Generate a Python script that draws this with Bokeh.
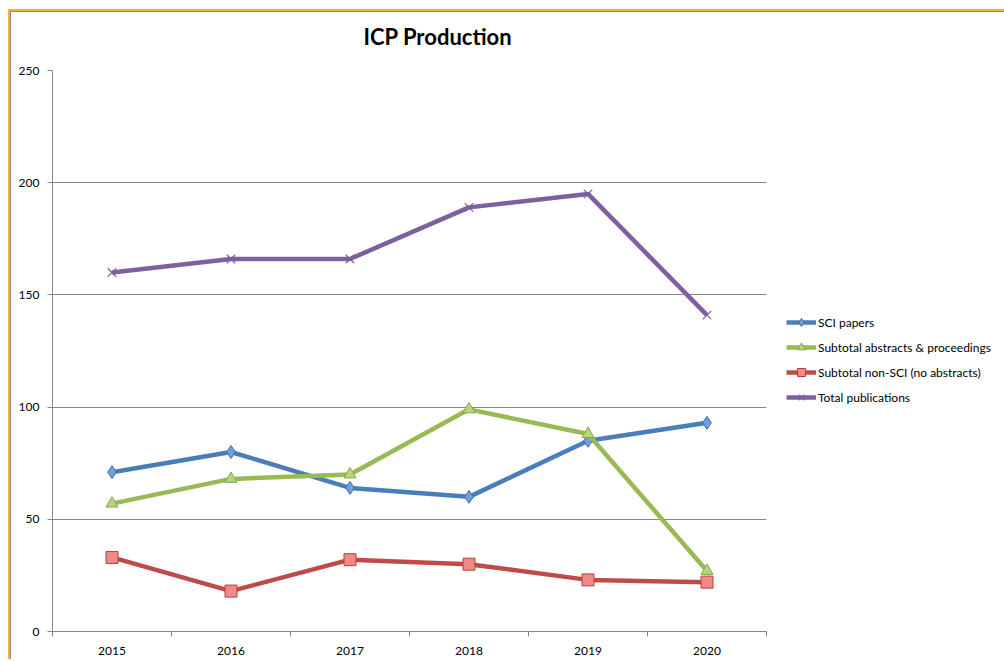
from bokeh.plotting import figure
from bokeh.models import FixedTicker, Legend, LegendItem
from bokeh.embed import file_html
from bokeh.resources import INLINE

years = [2015, 2016, 2017, 2018, 2019, 2020]
sci_papers = [71, 80, 64, 60, 85, 93]
abstracts_proceedings = [57, 68, 70, 99, 88, 27]
non_sci = [33, 18, 32, 30, 23, 22]
total_publications = [160, 166, 166, 189, 195, 141]

series_names = ["SCI papers", "Subtotal abstracts & proceedings",
                "Subtotal non-SCI (no abstracts)", "Total publications"]
y_ticks = [0, 50, 100, 150, 200, 250]

FONT = "Lato"
GRID = "#868686"
ORANGE = "#F5B32B"

p = figure(frame_width=714, frame_height=561, output_backend="svg", toolbar_location=None,
           x_range=(years[0] - 0.5, years[-1] + 0.5), y_range=(0, 250),
           min_border_left=52, min_border_right=8, min_border_top=70,
           min_border_bottom=28)
# chart-area frame (orange selection line with thin grey inner edge)
p.styles = {"box-shadow": (
    "inset 0 9px 0 0 white, inset 8px 0 0 0 white, "
    f"inset 0 11px 0 0 {ORANGE}, inset 10px 0 0 0 {ORANGE}, "
    "inset 0 12px 0 0 #8a8a8a, inset 11px 0 0 0 #8a8a8a")}
p.border_fill_color = None
p.background_fill_color = "white"
p.outline_line_color = None

p.title.text = "ICP Production"
p.title.text_font = FONT
p.title.text_font_size = "22px"
p.title.text_font_style = "bold"
p.title.text_color = "black"
p.title.align = "left"
p.title.offset = 311
p.title.standoff = 41

# axes
p.xaxis.ticker = FixedTicker(ticks=years, minor_ticks=[y - 0.5 for y in years] + [years[-1] + 0.5])
p.xaxis.major_tick_line_color = None
p.xaxis.minor_tick_out = 5
p.xaxis.minor_tick_in = 0
p.xaxis.minor_tick_line_color = GRID
p.xaxis.axis_line_color = GRID
p.xaxis.major_label_text_font = FONT
p.xaxis.major_label_text_font_size = "12px"
p.xaxis.major_label_text_color = "black"
p.xaxis.major_label_standoff = 9

p.yaxis.ticker = FixedTicker(ticks=y_ticks)
p.yaxis.minor_tick_line_color = None
p.yaxis.major_tick_out = 5
p.yaxis.major_tick_in = 0
p.yaxis.major_tick_line_color = GRID
p.yaxis.axis_line_color = GRID
p.yaxis.major_label_text_font = FONT
p.yaxis.major_label_text_font_size = "12px"
p.yaxis.major_label_text_color = "black"
p.yaxis.major_label_standoff = 8

p.xgrid.grid_line_color = None
p.ygrid.grid_line_color = GRID
p.ygrid.grid_line_width = 1
p.ygrid.ticker = FixedTicker(ticks=y_ticks[1:])

LW = 4.5
items = []

l1 = p.line(years, sci_papers, line_color="#4A7EBB", line_width=LW)
m1 = p.scatter(years, sci_papers, marker="diamond", size=13, fill_color="#6FA0DC",
               line_color="#3C6EAE", line_width=1)
items.append(LegendItem(label=series_names[0], renderers=[l1, m1]))

l2 = p.line(years, abstracts_proceedings, line_color="#98B954", line_width=LW)
m2 = p.scatter(years, abstracts_proceedings, marker="triangle", size=12, fill_color="#B5D67C",
               line_color="#89A54E", line_width=1)
items.append(LegendItem(label=series_names[1], renderers=[l2, m2]))

l3 = p.line(years, non_sci, line_color="#BE4B48", line_width=LW)
m3 = p.scatter(years, non_sci, marker="square", size=12, fill_color="#F08A87",
               line_color="#B6403D", line_width=1)
items.append(LegendItem(label=series_names[2], renderers=[l3, m3]))

l4 = p.line(years, total_publications, line_color="#7D60A0", line_width=LW)
m4 = p.scatter(years, total_publications, marker="x", size=12,
               line_color="#7D60A0", line_width=1.2)
items.append(LegendItem(label=series_names[3], renderers=[l4, m4]))

legend = Legend(items=items, location=(20, 224), padding=0, margin=0,
                border_line_color=None, background_fill_color=None,
                background_fill_alpha=0, glyph_width=30, glyph_height=20,
                spacing=5, label_standoff=2, label_text_font=FONT,
                label_text_font_size="12px", label_text_color="black",
                label_height=20)
p.add_layout(legend, "right")

open("out.html", "w").write(file_html(p, INLINE))
